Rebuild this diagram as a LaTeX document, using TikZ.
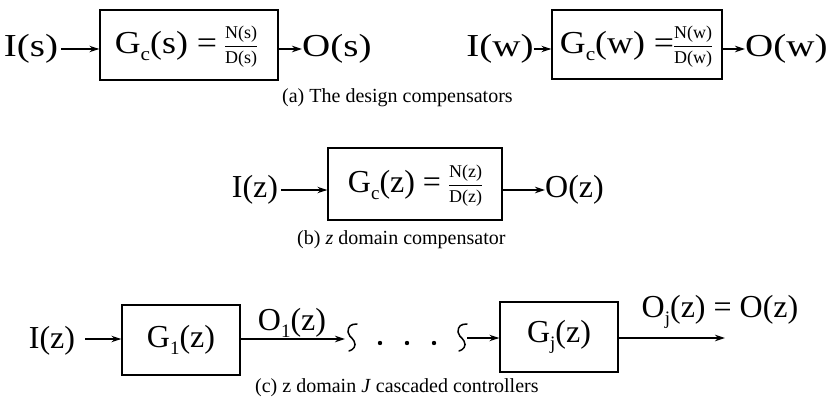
\documentclass[tikz,border=0pt]{standalone}
\usepackage{fontspec}
\setmainfont{Liberation Serif}
\newfontfamily\wideA[FakeStretch=1.22]{Liberation Serif}
\newfontfamily\wideB[FakeStretch=1.12]{Liberation Serif}
\usetikzlibrary{arrows.meta}
\newcommand\bigf{\fontsize{32}{36}\selectfont}
\newcommand\capf{\fontsize{20}{24}\selectfont}
\newcommand\fracf{\fontsize{18}{20}\selectfont}
\newcommand\sbs[1]{\raisebox{-0.22em}{\fontsize{19}{19}\selectfont #1}}
\newcommand\myfrac[2]{$\vcenter{\hbox{\fracf\begin{tabular}{@{}c@{}}#1\\[1pt]\hline\rule{0pt}{17pt}#2\end{tabular}}}$}
\begin{document}
\begin{tikzpicture}[x=1pt,y=-1pt,
  blk/.style={draw,line width=1.4pt,inner sep=0pt},
  lbl/.style={inner sep=0pt,font=\bigf},
  lblA/.style={inner sep=0pt,font=\bigf\wideA},
  captxt/.style={inner sep=0pt,font=\capf,anchor=west},
  arr/.style={line width=1.1pt,-{Stealth[length=10pt,width=6.5pt]}},
  squig/.style={line width=1.5pt,line cap=round}]
\useasboundingbox (0,0) rectangle (827,404);
% row (a) left
\node[lblA] (Is) at (31,49) {I(s)};
\node[blk,minimum width=178pt,minimum height=70pt] (b1) at (189,45) {};
\node[lbl] (G1t) at (186,47) {{\wideB G\sbs{c}(s) =} \myfrac{N(s)}{D(s)}};
\node[lblA,anchor=west] (Os) at (302,49) {O(s)};
\draw[arr,shorten <=3pt] (Is.east) -- (Is -| b1.west);
\draw[arr] (Os -| b1.east) -- (Os.west);
% row (a) right
\node[lblA] (Iw) at (500,49) {I(w)};
\node[blk,minimum width=170pt,minimum height=69pt] (b2) at (637,44.5) {};
\node[lbl] (G2t) at (636,47) {{\wideB G\sbs{c}(w) =}\myfrac{N(w)}{D(w)}};
\node[lblA,anchor=west] (Ow) at (745,49) {O(w)};
\draw[arr] (Iw.east) -- (Iw -| b2.west);
\draw[arr] (Ow -| b2.east) -- (Ow.west);
\node[captxt] (capa) at (282,98) {(a) The design compensators};
% row (b)
\node[lbl] (Iz) at (255,190) {I(z)};
\node[blk,minimum width=174pt,minimum height=72pt] (b3) at (415,184) {};
\node[lbl] (G3t) at (415,186) {G\sbs{c}(z) = \myfrac{N(z)}{D(z)}};
\node[lbl,anchor=west] (Oz) at (545,190) {O(z)};
\draw[arr,shorten <=3pt] (Iz.east) -- (Iz -| b3.west);
\draw[arr] (Oz -| b3.east) -- (Oz.west);
\node[captxt] (capb) at (297,240) {(b) \textit{z} domain compensator};
% row (c)
\node[lbl] (Izc) at (52,341) {I(z)};
\node[blk,minimum width=118pt,minimum height=70pt,font=\bigf] (g1) at (181,340) {G\sbs{1}(z)};
\coordinate (t1) at (345,339);
\coordinate (s0) at (85,339);
\draw[arr] (s0) -- (s0 -| g1.west);
\draw[arr] (g1.east |- t1) -- (t1);
\node[lbl] (O1) at (292,323) {O\sbs{1}(z)};
\coordinate (q1) at (352,337);
\coordinate (q2) at (462,337);
\draw[squig] (q1) ++(5,-13) .. controls ++(-6,0) and ++(0,-6) .. ++(-9,8) .. controls ++(0,4) and ++(-3,-5) .. ++(6,9) .. controls ++(3,5) and ++(4,-1) .. ++(-5,10);
\draw[squig] (q2) ++(5,-13) .. controls ++(-6,0) and ++(0,-6) .. ++(-9,8) .. controls ++(0,4) and ++(-3,-5) .. ++(6,9) .. controls ++(3,5) and ++(4,-1) .. ++(-5,10);
\fill (380,343) circle (2.2pt) (407,343) circle (2.2pt) (434,343) circle (2.2pt);
\node[blk,minimum width=118pt,minimum height=70pt,font=\bigf] (gj) at (559,337) {G\sbs{j}(z)};
\coordinate (q2e) at (467,338);
\draw[arr] (q2e) -- (q2e -| gj.west);
\coordinate (oe) at (725,338);
\draw[arr] (gj.east |- oe) -- (oe);
\node[lbl] (Oj) at (720,312) {O\sbs{j}(z) = O(z)};
\node[captxt] (capc) at (255,388) {(c) z domain \textit{J} cascaded controllers};
\end{tikzpicture}
\end{document}
